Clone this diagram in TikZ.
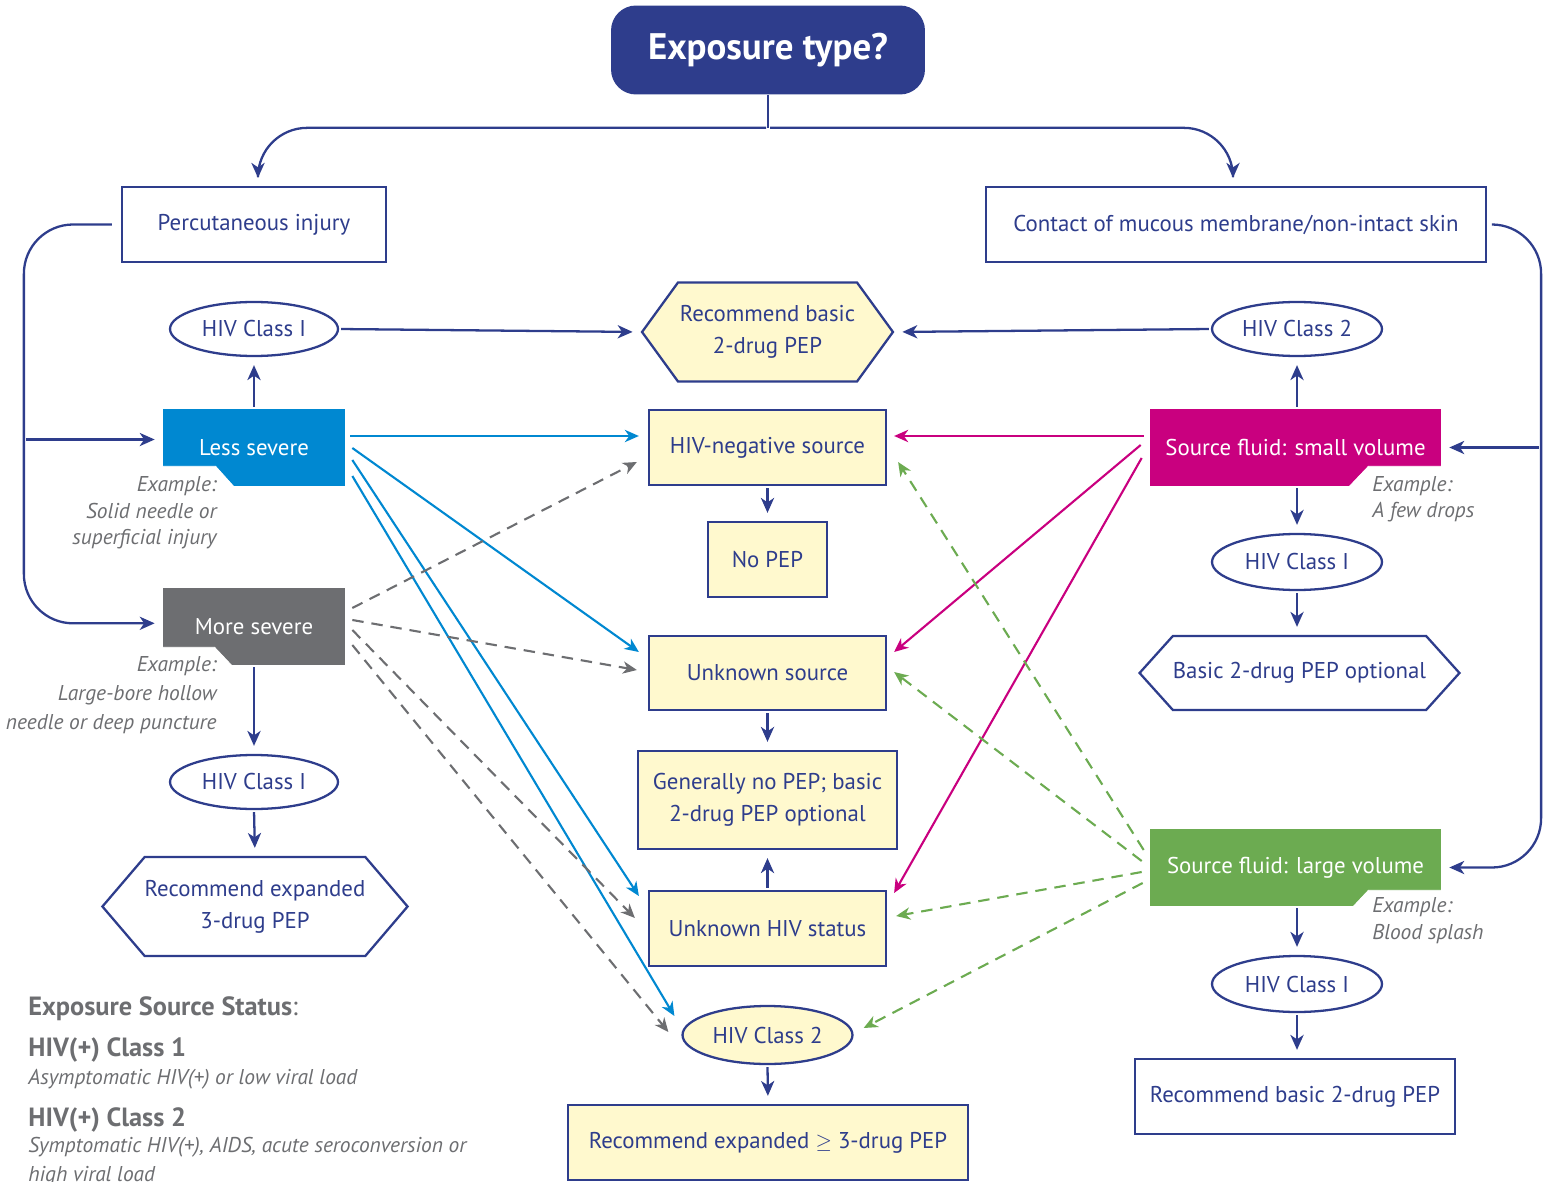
\documentclass[tikz,border=0pt]{standalone}
\usepackage{fontspec}
\setmainfont{PT Sans}
\usepackage{tikz}
\usetikzlibrary{arrows.meta,positioning,shapes.geometric,shapes.symbols}
\definecolor{navy}{RGB}{46,61,140}
\definecolor{cblue}{RGB}{0,136,209}
\definecolor{cgrey}{RGB}{109,110,113}
\definecolor{cmag}{RGB}{201,0,127}
\definecolor{cgreen}{RGB}{108,171,81}
\definecolor{cream}{RGB}{255,249,206}
\newcommand\boxfont{\fontsize{13}{18.2}\selectfont}
\tikzset{%
	titlebox/.style = {rectangle, rounded corners=0.5cm, fill=navy, text=white, font=\bfseries\fontsize{21}{24}\selectfont, minimum width=6.28cm, minimum height=1.78cm},
	plainbox/.style = {draw=navy, line width=1.3pt, fill=white, text=navy, font=\boxfont, minimum height=1.5cm, align=center},
	yellowbox/.style= {plainbox, fill=cream},
	classell/.style = {draw=navy, ellipse, line width=1.3pt, fill=white, text=navy, font=\boxfont, minimum width=3.36cm, minimum height=1.08cm, inner sep=0pt},
	hexbox/.style   = {draw=navy, signal, signal to=west and east, line width=1.3pt, fill=white, text=navy, font=\boxfont, align=center, inner sep=0pt},
	sevbox/.style   = {rectangle, text=white, font=\boxfont, minimum width=3.64cm, minimum height=1.54cm},
	example/.style  = {text=cgrey, font=\itshape\fontsize{12.2}{15}\selectfont, inner sep=0pt},
	legend/.style   = {text=cgrey, font=\fontsize{15}{17}\selectfont, inner sep=0pt, anchor=west},
	legitalic/.style= {text=cgrey, font=\itshape\fontsize{12.2}{16.5}\selectfont, inner sep=0pt, align=left},
	navyline/.style = {draw=navy, line width=1.3pt},
	flow/.style     = {navyline, -{Stealth[length=8.5pt,width=7.5pt,inset=2.5pt]}, shorten >=0.16cm, shorten <=0.04cm},
	bluearrow/.style= {draw=cblue, line width=1.2pt, -{Stealth[length=8pt,width=7pt,inset=2.5pt]}},
	greyarrow/.style= {draw=cgrey, line width=1.2pt, dash pattern=on 6.5pt off 4.5pt, -{Stealth[length=8pt,width=7pt,inset=2.5pt]}},
	magarrow/.style = {draw=cmag, line width=1.2pt, -{Stealth[length=8pt,width=7pt,inset=2.5pt]}},
	greenarrow/.style={draw=cgreen, line width=1.2pt, dash pattern=on 6.5pt off 4.5pt, -{Stealth[length=8pt,width=7pt,inset=2.5pt]}},
}
\begin{document}
\begin{tikzpicture}[x=0.02cm,y=-0.02cm]
	\useasboundingbox (0,0) rectangle (1548,1182);
	% exposure type
	\node[titlebox] (title) at (768,50) {Exposure type?};
	\node[plainbox, minimum width=5.28cm] (perc) at (254,224.5) {Percutaneous injury};
	\node[plainbox, minimum width=10cm] (contact) at (1236,224.5) {Contact of mucous membrane/non-intact skin};
	\draw[navyline] (title.south) -- ++(0,33) coordinate (split);
	\draw[flow, rounded corners=28] (split) -| ([shift={(4,0)}]perc.north);
	\draw[flow, rounded corners=28] (split) -| ([shift={(-3,0)}]contact.north);
	
	% percutaneous side
	\node[sevbox, fill=cblue] (less) at (254,447.5) {Less severe};
	\filldraw[white, line width=0.4pt] (less.south west) -- ++(0,-20) -- ++(53,0) -- ++(18,20) -- cycle;
	\node[sevbox, fill=cgrey] (more) at (254,626.5) {More severe};
	\filldraw[white, line width=0.4pt] (more.south west) -- ++(0,-18) -- ++(52,0) -- ++(17,18) -- cycle;
	\node[example, align=right, anchor=east] (exLess) at (217,513) {Example:\\Solid needle or\\superficial injury};
	\node[example, align=right, anchor=east, font=\itshape\fontsize{12.2}{16.5}\selectfont] (exMore) at (217,695) {Example:\\Large-bore hollow\\needle or deep puncture};
	\draw[flow, rounded corners=28] ([shift={(-7,0)}]perc.west) -- ++(-90,0) coordinate (lbend) |- (more.178);
	\draw[flow] (lbend |- less.175) -- (less.175);
	\node[classell] (hivA) at (254,329) {HIV Class I};
	\node[classell] (hivC) at (254,782) {HIV Class I};
	\node[hexbox, minimum width=6.08cm, minimum height=1.98cm, signal pointer angle=99] (expHex) at (255,906.5) {Recommend expanded\\3-drug PEP};
	\draw[flow] (less.north) -- (hivA.south);
	\draw[flow] (more.south) -- (hivC.north);
	\draw[flow] (hivC.south) -- (expHex.north);
	
	% centre column
	\node[hexbox, fill=cream, minimum width=5.02cm, minimum height=1.98cm, signal pointer angle=108] (basicHex) at (767.5,332) {Recommend basic\\2-drug PEP};
	\node[yellowbox, minimum width=4.74cm] (neg) at (767.5,447.5) {HIV-negative source};
	\node[yellowbox, minimum width=2.38cm] (nopep) at (767.5,559.5) {No PEP};
	\node[yellowbox, minimum width=4.74cm, minimum height=1.48cm] (unk) at (767.5,673) {Unknown source};
	\node[yellowbox, minimum width=5.18cm, minimum height=1.96cm] (gen) at (767.5,800) {Generally no PEP; basic\\2-drug PEP optional};
	\node[yellowbox, minimum width=4.74cm] (unkhiv) at (767.5,928.5) {Unknown HIV status};
	\node[classell, fill=cream, minimum width=3.4cm, minimum height=1.16cm] (hiv2) at (767.5,1035) {HIV Class 2};
	\node[yellowbox, minimum width=8cm] (expBox) at (768,1142.5) {Recommend expanded \ensuremath{\geq} 3-drug PEP};
	\draw[flow] (neg.south) -- (nopep.north);
	\draw[flow] (unk.south) -- (gen.north);
	\draw[flow] (unkhiv.north) -- (gen.south);
	\draw[flow] (hiv2.south) -- (expBox.north);
	
	% mucous membrane side
	\node[sevbox, fill=cmag, minimum width=5.82cm] (small) at (1295.5,447.5) {Source fluid: small volume};
	\filldraw[white, line width=0.4pt] (small.south east) -- ++(0,-20) -- ++(-73,0) -- ++(-19,20) -- cycle;
	\node[sevbox, fill=cgreen, minimum width=5.82cm] (large) at (1295.5,867.5) {Source fluid: large volume};
	\filldraw[white, line width=0.4pt] (large.south east) -- ++(0,-16) -- ++(-73,0) -- ++(-15,16) -- cycle;
	\node[example, align=left, anchor=west] (exSmall) at (1372,499) {Example:\\A few drops};
	\node[example, align=left, anchor=west, font=\itshape\fontsize{12.2}{15.5}\selectfont] (exLarge) at (1372,921) {Example:\\Blood splash};
	\draw[flow, rounded corners=28] ([shift={(7,0)}]contact.east) -- ++(47,0) coordinate (rbend) |- (large.east);
	\draw[flow] (rbend |- small.east) -- (small.east);
	\node[classell, minimum width=3.4cm] (hivB) at (1297,329) {HIV Class 2};
	\node[classell, minimum width=3.4cm, minimum height=1.12cm] (hivD) at (1297,562) {HIV Class I};
	\node[hexbox, minimum width=6.38cm, minimum height=1.48cm, signal pointer angle=96] (optHex) at (1299.5,673) {Basic 2-drug PEP optional};
	\node[classell, minimum width=3.4cm, minimum height=1.12cm] (hivE) at (1297,984) {HIV Class I};
	\node[plainbox, minimum width=6.4cm] (basicBox) at (1295,1096.5) {Recommend basic 2-drug PEP};
	\draw[flow] (small.north -| hivB) -- (hivB.south);
	\draw[flow] (small.south -| hivD) -- (hivD.north);
	\draw[flow] (hivD.south) -- (optHex.north -| hivD);
	\draw[flow] (large.south -| hivE) -- (hivE.north);
	\draw[flow] (hivE.south) -- (basicBox.north -| hivE);
	\draw[flow] (hivA.east) -- (basicHex.west);
	\draw[flow] (hivB.west) -- (basicHex.east);
	
	% less severe
	\draw[bluearrow] ([shift={(5,-11.5)}]less.east) -- ([shift={(-9,-11.5)}]neg.west);
	\draw[bluearrow] ([shift={(7,0.5)}]less.east) -- ([shift={(-9,-21)}]unk.west);
	\draw[bluearrow] ([shift={(7,12.5)}]less.east) -- ([shift={(-9,-32.5)}]unkhiv.west);
	\draw[bluearrow] ([shift={(7,28.5)}]less.east) -- ([shift={(-7,-19)}]hiv2.west);
	% more severe
	\draw[greyarrow] ([shift={(7,-18.5)}]more.east) -- ([shift={(-11,14.5)}]neg.west);
	\draw[greyarrow] ([shift={(7,-6.5)}]more.east) -- ([shift={(-11,-3)}]unk.west);
	\draw[greyarrow] ([shift={(7,3.5)}]more.east) -- ([shift={(-13,-10.5)}]unkhiv.west);
	\draw[greyarrow] ([shift={(7,18.5)}]more.east) -- ([shift={(-13,-3)}]hiv2.west);
	% small volume
	\draw[magarrow] ([shift={(-6,-11.5)}]small.west) -- ([shift={(7,-11.5)}]neg.east);
	\draw[magarrow] ([shift={(-9,-2.5)}]small.west) -- ([shift={(7,-21)}]unk.east);
	\draw[magarrow] ([shift={(-8,10.5)}]small.west) -- ([shift={(7,-35.5)}]unkhiv.east);
	% large volume
	\draw[greenarrow] ([shift={(-6,-17.5)}]large.west) -- ([shift={(11,14.5)}]neg.east);
	\draw[greenarrow] ([shift={(-8,-6.5)}]large.west) -- ([shift={(7,-1)}]unk.east);
	\draw[greenarrow] ([shift={(-8,4.5)}]large.west) -- ([shift={(9,-12.5)}]unkhiv.east);
	\draw[greenarrow] ([shift={(-7,15.5)}]large.west) -- ([shift={(10,-7)}]hiv2.east);
	
	% legend
	\node[legend] (legHead) at (28,1009) {\textbf{Exposure Source Status}:};
	\node[legend] (legOne) at (28,1050) {\textbf{HIV(+) Class 1}};
	\node[legitalic, anchor=west] (legOneTxt) at (28,1079) {Asymptomatic HIV(+) or low viral load};
	\node[legend] (legTwo) at (28,1120) {\textbf{HIV(+) Class 2}};
	\node[legitalic, anchor=north west] (legTwoTxt) at (28,1137) {Symptomatic HIV(+), AIDS, acute seroconversion or\\high viral load};
\end{tikzpicture}
\end{document}
